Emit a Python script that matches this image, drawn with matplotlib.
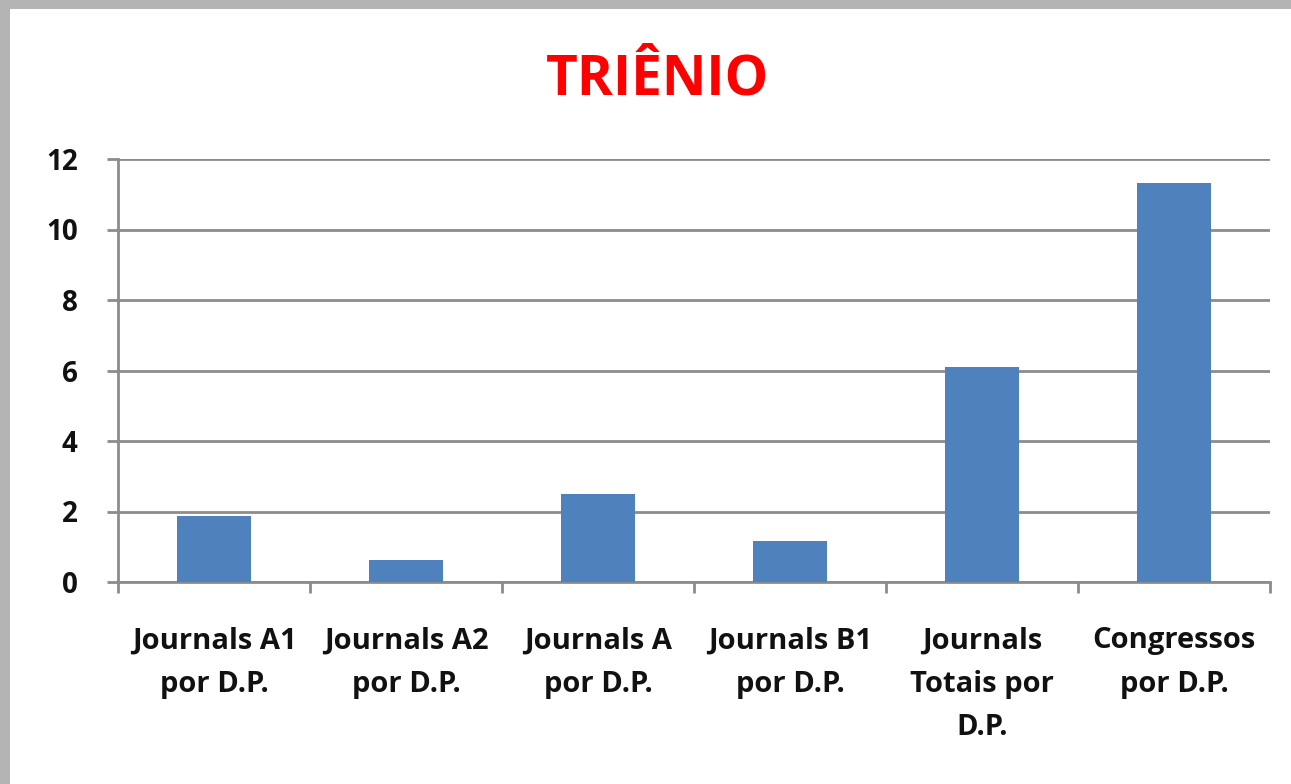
import matplotlib.pyplot as plt
from matplotlib.patches import Rectangle

categories = ['Journals A1\npor D.P.', 'Journals A2\npor D.P.', 'Journals A\npor D.P.',
              'Journals B1\npor D.P.', 'Journals\nTotais por\nD.P.', 'Congressos\npor D.P.']
values = [1.87, 0.63, 2.5, 1.17, 6.1, 11.33]
yticks = [0, 2, 4, 6, 8, 10, 12]

plt.rcParams['font.family'] = ['Open Sans', 'DejaVu Sans']

fig = plt.figure(figsize=(12.91, 7.84), dpi=100)
fig.patch.set_facecolor('white')
# grey window frame along top and left edges
fig.patches.append(Rectangle((0, 1 - 9 / 784), 1, 9 / 784, transform=fig.transFigure,
                             facecolor='#b4b4b4', edgecolor='none', zorder=-10))
fig.patches.append(Rectangle((0, 0), 10 / 1291, 1, transform=fig.transFigure,
                             facecolor='#b4b4b4', edgecolor='none', zorder=-10))

ax = fig.add_axes([118 / 1291, 1 - 582 / 784, (1270 - 118) / 1291, (582 - 159) / 784])
ax.set_facecolor('none')

x = list(range(len(categories)))
ax.bar(x, values, width=0.39, color='#4f81bd', zorder=3)

ax.set_xlim(-0.5, len(categories) - 0.5)
ax.set_ylim(0, 12)
ax.set_yticks(yticks)
ax.set_yticklabels([str(v) for v in yticks], fontsize=20, fontweight='bold', color='#111111')
ax.yaxis.grid(True, color='#8c8c8c', linewidth=2, zorder=1)

ax.set_xticks([i - 0.5 for i in range(len(categories) + 1)])
ax.set_xticklabels([])
ax.set_xticks(x, minor=True)
ax.set_xticklabels(categories, minor=True, fontsize=21, fontweight='bold',
                   color='#111111', linespacing=1.65, va='top')
ax.tick_params(axis='x', which='minor', length=0, pad=32)
ax.tick_params(axis='x', which='major', length=8, width=2, color='#8c8c8c', direction='out')
ax.tick_params(axis='y', length=8, width=2, color='#8c8c8c', pad=21)

for s in ['top', 'right']:
    ax.spines[s].set_visible(False)
for s in ['left', 'bottom']:
    ax.spines[s].set_color('#8c8c8c')
    ax.spines[s].set_linewidth(2)

fig.text(658 / 1291, 1 - 80 / 784, 'TRIÊNIO', color='#ff0000', fontsize=39.5,
         fontweight='bold', ha='center', va='center')

plt.savefig('out.png', dpi=100)
